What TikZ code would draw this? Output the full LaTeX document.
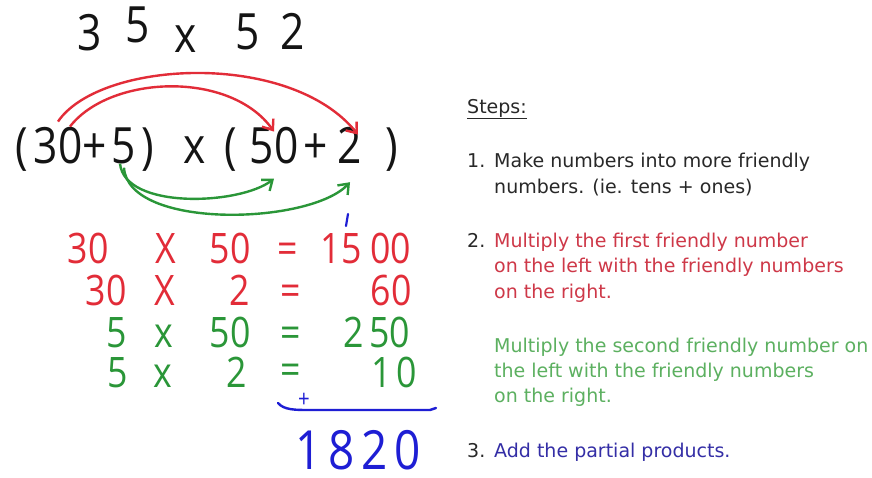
\documentclass[tikz,border=0pt]{standalone}
\usepackage{fontspec}
\usepackage{xcolor}
\usetikzlibrary{arrows.meta}
\newfontfamily\handfont{Open Sans}
\newfontfamily\stepfont{DejaVu Sans}
\definecolor{handred}{RGB}{226,44,56}
\definecolor{handgreen}{RGB}{42,150,56}
\definecolor{handblue}{RGB}{30,30,212}
\definecolor{inkblack}{RGB}{20,20,20}
\definecolor{textblack}{RGB}{40,40,40}
\definecolor{textred}{RGB}{206,56,72}
\definecolor{textgreen}{RGB}{92,176,96}
\definecolor{textblue}{RGB}{52,46,166}

\begin{document}
\begin{tikzpicture}[
    x=1pt, y=-1pt,
    hand/.style={inner sep=0pt, anchor=base, xscale=0.85, font=\handfont\fontsize{42}{42}\selectfont},
    bighand/.style={hand, font=\handfont\fontsize{50}{50}\selectfont},
    tophand/.style={hand, text=inkblack, font=\handfont\fontsize{50}{50}\selectfont},
    steptext/.style={anchor=base west, inner sep=0pt, font=\stepfont\fontsize{19}{23}\selectfont, text=textblack},
    redarc/.style={draw=handred, line width=2.4pt, -{Straight Barb[length=9pt,width=14pt]}},
    greenarc/.style={draw=handgreen, line width=2.4pt, -{Straight Barb[length=9pt,width=14pt]}}
]
\useasboundingbox (0,0) rectangle (872,477);
\fill[white] (0,0) rectangle (872,477);

% Problem
\node[tophand] (q3) at (90,50) {3};
\node[tophand] (q5) at (138,42) {5};
\node[tophand] (qx) at (186,52) {x};
\node[tophand] (q5b) at (248,49) {5};
\node[tophand] (q2) at (293,49) {2};

% Friendly numbers
\node[bighand, text=inkblack] (lp1) at (22,163) {(};
\node[bighand, text=inkblack] (t30) at (58,163) {30};
\node[bighand, text=inkblack] (pl1) at (95,163) {+};
\node[bighand, text=inkblack] (o5) at (124,163) {5};
\node[bighand, text=inkblack] (rp1) at (148,163) {)};
\node[bighand, text=inkblack] (mul) at (195,163) {x};
\node[bighand, text=inkblack] (lp2) at (231,163) {(};
\node[bighand, text=inkblack] (t50) at (274,163) {50};
\node[bighand, text=inkblack] (pl2) at (316,163) {+};
\node[bighand, text=inkblack] (o2) at (350,163) {2};
\node[bighand, text=inkblack] (rp2) at (392,163) {)};

% Arcs
\draw[redarc] ([yshift=5pt]t30.north) .. controls (100,60) and (290,50) .. ([xshift=8pt,yshift=-8pt]o2.north);
\draw[redarc] ([xshift=12pt]t30.north) .. controls (110,75) and (230,70) .. ([yshift=-5pt]t50.north);
\draw[greenarc] ([xshift=-4pt]o5.south) .. controls (125,210) and (240,205) .. ([yshift=-15pt]t50.south);
\draw[greenarc] ([yshift=-4pt]o5.south) .. controls (128,230) and (310,225) .. ([yshift=-19pt]o2.south);

% Partial products
\node[hand, text=handred] (r1a) at (88,263) {30};
\node[hand, text=handred] (r1x) at (166,263) {X};
\node[hand, text=handred] (r1b) at (230,263) {50};
\node[hand, text=handred] (r1e) at (288,263) {=};
\node[hand, text=handred] (r1p) at (366,263) {15\hspace{10pt}00};

\node[hand, text=handred] (r2a) at (106,305) {30};
\node[hand, text=handred] (r2x) at (165,305) {X};
\node[hand, text=handred] (r2b) at (240,305) {2};
\node[hand, text=handred] (r2e) at (291,305) {=};
\node[hand, text=handred] (r2p) at (391,305) {60};

\node[hand, text=handgreen] (r3a) at (117,347) {5};
\node[hand, text=handgreen] (r3x) at (164,347) {x};
\node[hand, text=handgreen] (r3b) at (230,347) {50};
\node[hand, text=handgreen] (r3e) at (291,347) {=};
\node[hand, text=handgreen] (r3p) at (377,347) {2\hspace{6pt}50};

\node[hand, text=handgreen] (r4a) at (118,387) {5};
\node[hand, text=handgreen] (r4x) at (163,387) {x};
\node[hand, text=handgreen] (r4b) at (237,387) {2};
\node[hand, text=handgreen] (r4e) at (291,384) {=};
\node[hand, text=handgreen] (r4p) at (394,387) {1\hspace{6pt}0};

% Sum
\draw[handblue, line width=2.2pt, line cap=round] (348,214) -- (346,226);
\node[hand, text=handblue, font=\handfont\fontsize{24}{24}\selectfont] (plus) at (304,407) {+};
\draw[handblue, line width=2.4pt, line cap=round] (278,403) .. controls (284,410) and (295,410) .. (310,410) -- (430,410) -- (436,408);
\node[hand, text=handblue, font=\handfont\fontsize{54}{54}\selectfont] (total) at (358,469) {1\hspace{8pt}8\hspace{8pt}2\hspace{8pt}0};

% Steps
\node[steptext] (title) at (467,113) {\underline{Steps:}};
\node[steptext] (n1) at (467,167) {1.};
\node[steptext] (s1a) at (494,167) {Make numbers into more friendly};
\node[steptext] (s1b) at (494,193) {numbers. (ie. tens + ones)};
\node[steptext] (n2) at (467,247) {2.};
\node[steptext, text=textred] (s2a) at (494,247) {Multiply the first friendly number};
\node[steptext, text=textred] (s2b) at (494,272) {on the left with the friendly numbers};
\node[steptext, text=textred] (s2c) at (494,298) {on the right.};
\node[steptext, text=textgreen] (s2d) at (494,352) {Multiply the second friendly number on};
\node[steptext, text=textgreen] (s2e) at (494,377) {the left with the friendly numbers};
\node[steptext, text=textgreen] (s2f) at (494,402) {on the right.};
\node[steptext] (n3) at (467,457) {3.};
\node[steptext, text=textblue] (s3a) at (494,457) {Add the partial products.};

\end{tikzpicture}
\end{document}
